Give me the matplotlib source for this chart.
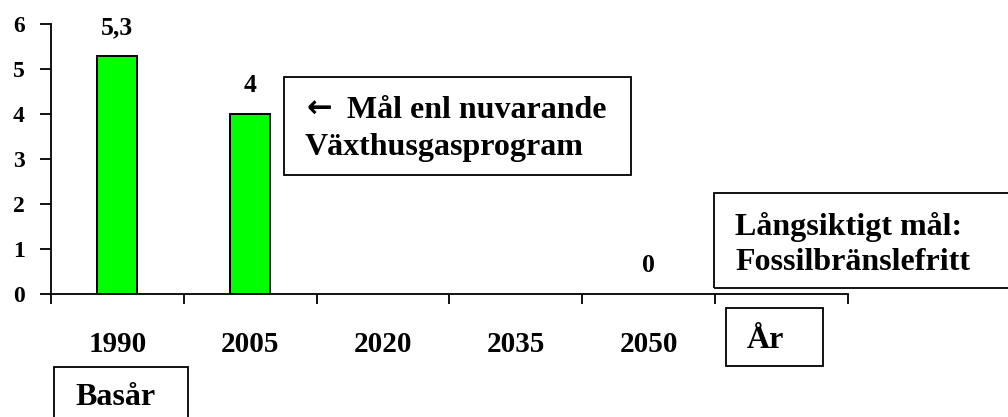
import matplotlib
matplotlib.use('Agg')
import matplotlib.pyplot as plt
from matplotlib.patches import Rectangle

# Chart data
years = ['1990', '2005', '2020', '2035', '2050', '']
values = [5.3, 4.0, 0.0, 0.0, 0.0, 0.0]
value_labels = ['5,3', '4', '', '', '0', '']
has_bar = [True, True, False, False, False, False]

plt.rcParams['font.family'] = ['Liberation Serif', 'DejaVu Serif']
plt.rcParams['font.weight'] = 'bold'

W, H = 1008, 417
fig = plt.figure(figsize=(W / 100, H / 100), dpi=100)

def px(x0, y0, x1, y1):
    # pixel box (top-left origin) -> figure fraction rect
    return [x0 / W, 1 - y1 / H, (x1 - x0) / W, (y1 - y0) / H]

ax = fig.add_axes(px(51, 24, 848, 294))

pos = list(range(len(years)))
bar_x = [p for p, b in zip(pos, has_bar) if b]
bar_v = [v for v, b in zip(values, has_bar) if b]
ax.bar(bar_x, bar_v, width=0.3, color='#00FF00', edgecolor='black', linewidth=1.4, zorder=3)

# value labels above the bars
for p, v, lab in zip(pos, values, value_labels):
    if lab:
        ax.annotate(lab, xy=(p, v), xytext=(0, 12), textcoords='offset points',
                    ha='center', va='bottom', fontsize=18.5, fontweight='bold')

ax.set_xlim(-0.5, len(years) - 0.5)
ax.set_ylim(0, 6)
ax.set_yticks(range(0, 7))
ax.tick_params(axis='y', direction='out', length=8, width=1.3, pad=11, labelsize=17)

# category boundaries get the ticks, labels sit at the centres
ax.set_xticks([p - 0.5 for p in pos] + [len(years) - 0.5])
ax.set_xticklabels([])
ax.set_xticks(pos, minor=True)
ax.set_xticklabels(years, minor=True)
ax.tick_params(axis='x', which='major', direction='out', length=7, width=1.3)
ax.tick_params(axis='x', which='minor', length=0, pad=27, labelsize=21)

for s in ['top', 'right']:
    ax.spines[s].set_visible(False)
for s in ['left', 'bottom']:
    ax.spines[s].set_linewidth(1.3)

# annotation boxes
boxes = [
    ((284, 77, 631, 175), 347, [(118, 'Mål enl nuvarande'), (155, None)]),
    ((714, 193, 1012, 288), 735, [(235, 'Långsiktigt mål:'), (270, 'Fossilbränslefritt')]),
    ((726, 308, 823, 366), 747, [(348, 'År')]),
    ((54, 367, 188, 425), 75, [(405, 'Basår')]),
]
for (x0, y0, x1, y1), tx, lines in boxes:
    r = px(x0, y0, x1, y1)
    fig.patches.append(Rectangle((r[0], r[1]), r[2], r[3], transform=fig.transFigure,
                                 fill=False, edgecolor='black', linewidth=1.3))
    for by, s in lines:
        if s is None:
            continue
        fig.text(tx / W, 1 - by / H, s, fontsize=23, fontweight='bold',
                 ha='left', va='baseline')

# arrow and second line of the goal box
fig.text(306 / W, 1 - 118 / H, '\u2190', fontsize=22, fontweight='bold',
         family=['DejaVu Sans'], ha='left', va='baseline')
fig.text(305 / W, 1 - 155 / H, 'Växthusgasprogram', fontsize=23, fontweight='bold',
         ha='left', va='baseline')

fig.savefig('out.png', dpi=100)
